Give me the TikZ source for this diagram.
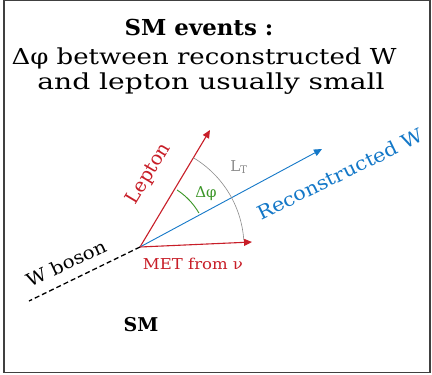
\documentclass[tikz,border=0pt]{standalone}
\usepackage{fontspec}
\usepackage{graphicx}
\setmainfont{DejaVu Serif}
\usetikzlibrary{arrows.meta}
\definecolor{redc}{RGB}{200,30,40}
\definecolor{bluec}{RGB}{20,120,200}
\definecolor{greenc}{RGB}{60,150,40}
\definecolor{grayc}{RGB}{140,140,140}
\tikzset{
  vec/.style={line width=1.1pt,-{Triangle[length=8pt,width=7pt]}},
  lbl/.style={inner sep=0pt,font=\fontsize{18}{22}\selectfont},
  ttl/.style={inner sep=0pt,anchor=base,font=\fontsize{22}{26}\selectfont},
}
\begin{document}
\begin{tikzpicture}[x=1pt,y=-1pt]
\useasboundingbox (0,0) rectangle (432,375);
\fill[white] (0,0) rectangle (432,375);
\draw[line width=1.4pt,black!75] (4,0.7) rectangle (430,372.5);
% title
\node[ttl] (t1) at (199,35) {\scalebox{1.04}[1]{\textbf{SM events :}}};
\node[ttl] (t2) at (204,64) {\scalebox{1.18}[1]{Δφ between reconstructed W}};
\node[ttl] (t3) at (211,89) {\scalebox{1.28}[1]{and lepton usually small}};
% vectors
\coordinate (O) at (140,247);
\coordinate (lep) at (210,130);
\coordinate (rw) at (322,149);
\coordinate (met) at (252,242);
\coordinate (wb) at (29,301);
\draw[line width=1.3pt,dash pattern=on 5pt off 3pt] (O) -- (wb);
\draw[vec,redc] (O) -- (lep);
\draw[vec,bluec,line width=0.9pt] (O) -- (rw);
\draw[vec,redc] (O) -- (met);
% arcs
\draw[grayc,line width=0.6pt] (O) ++(-59:104) arc[start angle=-59,end angle=-4,radius=104];
\draw[greenc,line width=0.9pt] (O) ++(-57:68) arc[start angle=-57,end angle=-30,radius=68];
% labels
\node[lbl,redc,rotate=59,font=\fontsize{19}{22}\selectfont] (lepl) at (149,174) {Lepton};
\node[lbl,bluec,rotate=26,font=\fontsize{19}{22}\selectfont] (rwl) at (340,174) {\scalebox{1.1}[1]{Reconstructed W}};
\node[lbl,greenc,font=\fontsize{15}{18}\selectfont] (dphi) at (206,194) {Δφ};
\node[lbl,grayc,font=\fontsize{15}{18}\selectfont] (lt) at (239,167) {L\(_{\mathrm{T}}\)};
\node[lbl,redc,font=\fontsize{15}{18}\selectfont] (metl) at (193,264) {\scalebox{1.1}[1]{MET from ν}};
\node[lbl,rotate=25] (wbl) at (66,263) {\scalebox{1.1}[1]{W boson}};
\node[lbl,font=\fontsize{19}{22}\selectfont\bfseries] (sm) at (141,325) {SM};
\end{tikzpicture}
\end{document}
